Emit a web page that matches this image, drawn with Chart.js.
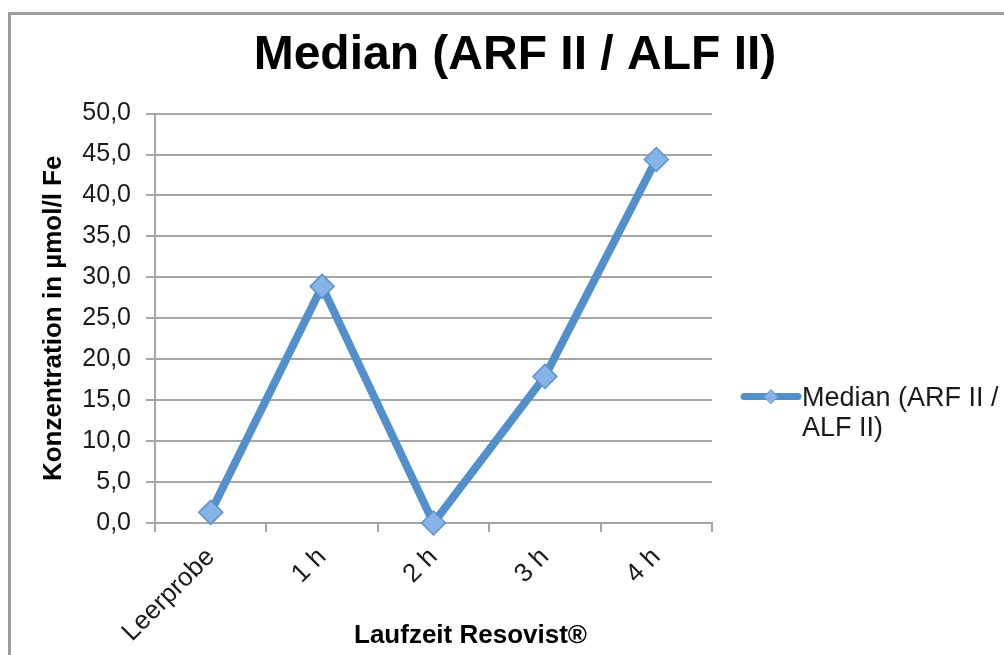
<!DOCTYPE html>
<html>
<head>
<meta charset="utf-8">
<title>Median (ARF II / ALF II)</title>
<script src="https://cdn.jsdelivr.net/npm/chart.js@4.4.1/dist/chart.umd.min.js"></script>
<style>
  html, body { margin: 0; padding: 0; background: #fff; }
  body { width: 1004px; height: 655px; position: relative; overflow: hidden; }
  .frame {
    position: absolute; left: 8px; top: 12px;
    width: 1100px; height: 800px;
    border: 3px solid #9d9d9d; box-sizing: border-box;
  }
  #chart-box { position: absolute; left: 0; top: 0; width: 1004px; height: 655px; }
</style>
</head>
<body>
<div class="frame"></div>
<div id="chart-box"><canvas id="median-chart" width="1004" height="655"></canvas></div>
<script>
// Eisenkonzentration (Median) je Laufzeit
const categories = ['Leerprobe', '1 h', '2 h', '3 h', '4 h'];
const medianValues = [1.3, 28.9, 0.0, 17.9, 44.4];
const yTickValues = [0, 5, 10, 15, 20, 25, 30, 35, 40, 45, 50];

const seriesLabel = 'Median (ARF II / ALF II)';
const xTitle = 'Laufzeit Resovist®';
const yTitle = 'Konzentration in µmol/l Fe';

const lineBlue = '#5390cb';
const markerFill = '#86b4e8';
const markerEdge = '#5f92cf';
const gridGray = '#a6a6a6';
const FONT = "'Liberation Sans', Arial, Helvetica, sans-serif";

Chart.defaults.font.family = FONT;

const formatTick = v => Number(v).toFixed(1).replace('.', ',');

// split legend text into lines no wider than maxWidth
const wrapText = (ctx, text, maxWidth) => {
  const words = text.split(' ');
  const lines = [];
  let line = '';
  words.forEach(w => {
    const test = line ? line + ' ' + w : w;
    if (ctx.measureText(test).width > maxWidth && line) {
      lines.push(line);
      line = w;
    } else {
      line = test;
    }
  });
  if (line) lines.push(line);
  return lines;
};

// legend to the right of the plot (text wraps onto two lines)
// plus the x axis caption, which sits a little right of the plot centre
const sideLegend = {
  id: 'sideLegend',
  afterDraw(chart) {
    const { ctx, chartArea } = chart;
    const ds = chart.data.datasets[0];
    const x0 = chartArea.right + 29;
    const y0 = chartArea.top + 283;
    const lineLen = 60;

    ctx.save();
    ctx.strokeStyle = ds.borderColor;
    ctx.lineWidth = 7;
    ctx.lineCap = 'round';
    ctx.beginPath();
    ctx.moveTo(x0 + 3, y0);
    ctx.lineTo(x0 + lineLen - 3, y0);
    ctx.stroke();

    const r = 7;
    const cx = x0 + lineLen / 2;
    ctx.beginPath();
    ctx.moveTo(cx - r, y0);
    ctx.lineTo(cx, y0 - r);
    ctx.lineTo(cx + r, y0);
    ctx.lineTo(cx, y0 + r);
    ctx.closePath();
    ctx.fillStyle = ds.pointBackgroundColor;
    ctx.fill();
    ctx.lineWidth = 1;
    ctx.strokeStyle = ds.pointBorderColor;
    ctx.stroke();

    ctx.font = '27px ' + FONT;
    ctx.fillStyle = '#1a1a1a';
    ctx.textBaseline = 'middle';
    ctx.textAlign = 'left';
    const lines = wrapText(ctx, ds.label, 205);
    lines.forEach((t, i) => ctx.fillText(t, x0 + lineLen + 1, y0 + 2 + i * 30));

    // x axis caption
    ctx.font = 'bold 26px ' + FONT;
    ctx.fillStyle = '#000';
    ctx.textAlign = 'center';
    ctx.fillText(xTitle, (chartArea.left + chartArea.right) / 2 + 37, 636);
    ctx.restore();
  }
};

new Chart(document.getElementById('median-chart'), {
  type: 'line',
  data: {
    labels: categories,
    datasets: [{
      label: seriesLabel,
      data: medianValues,
      borderColor: lineBlue,
      borderWidth: 8,
      borderJoinStyle: 'round',
      tension: 0,
      clip: false,
      pointStyle: 'rectRot',
      pointRadius: 12,
      pointBackgroundColor: markerFill,
      pointBorderColor: markerEdge,
      pointBorderWidth: 1.5
    }]
  },
  options: {
    responsive: false,
    animation: false,
    devicePixelRatio: 1,
    layout: { padding: { top: 0, left: 26, right: 0, bottom: 0 } },
    plugins: {
      legend: { display: false },
      tooltip: { enabled: false },
      title: {
        display: true,
        text: seriesLabel,
        color: '#000',
        font: { size: 48, weight: 'bold' },
        padding: { top: 27, bottom: 29 }
      }
    },
    scales: {
      x: {
        offset: true,
        grid: {
          offset: true,
          drawOnChartArea: false,
          drawTicks: true,
          tickLength: 9,
          color: gridGray,
          lineWidth: 2
        },
        border: { color: gridGray, width: 2 },
        ticks: {
          minRotation: 45,
          maxRotation: 45,
          color: '#1a1a1a',
          font: { size: 26 },
          padding: 10
        },
        afterFit: s => { s.height = 132; }
      },
      y: {
        min: 0,
        max: 50,
        afterBuildTicks: s => { s.ticks = yTickValues.map(v => ({ value: v })); },
        grid: { color: gridGray, lineWidth: 2, tickLength: 9 },
        border: { color: gridGray, width: 2 },
        ticks: {
          color: '#1a1a1a',
          font: { size: 25 },
          padding: 15,
          callback: v => formatTick(v)
        },
        title: {
          display: true,
          text: yTitle,
          color: '#000',
          font: { size: 26, weight: 'bold' },
          padding: { top: 12, bottom: 0 }
        },
        afterFit: s => { s.width = 129; }
      },
      // empty right-hand column that keeps room for the legend
      legendSpace: {
        position: 'right',
        display: true,
        grid: { display: false, drawTicks: false },
        border: { display: false },
        ticks: { display: false },
        afterFit: s => { s.width = 292; }
      }
    }
  },
  plugins: [sideLegend]
});
</script>
</body>
</html>
